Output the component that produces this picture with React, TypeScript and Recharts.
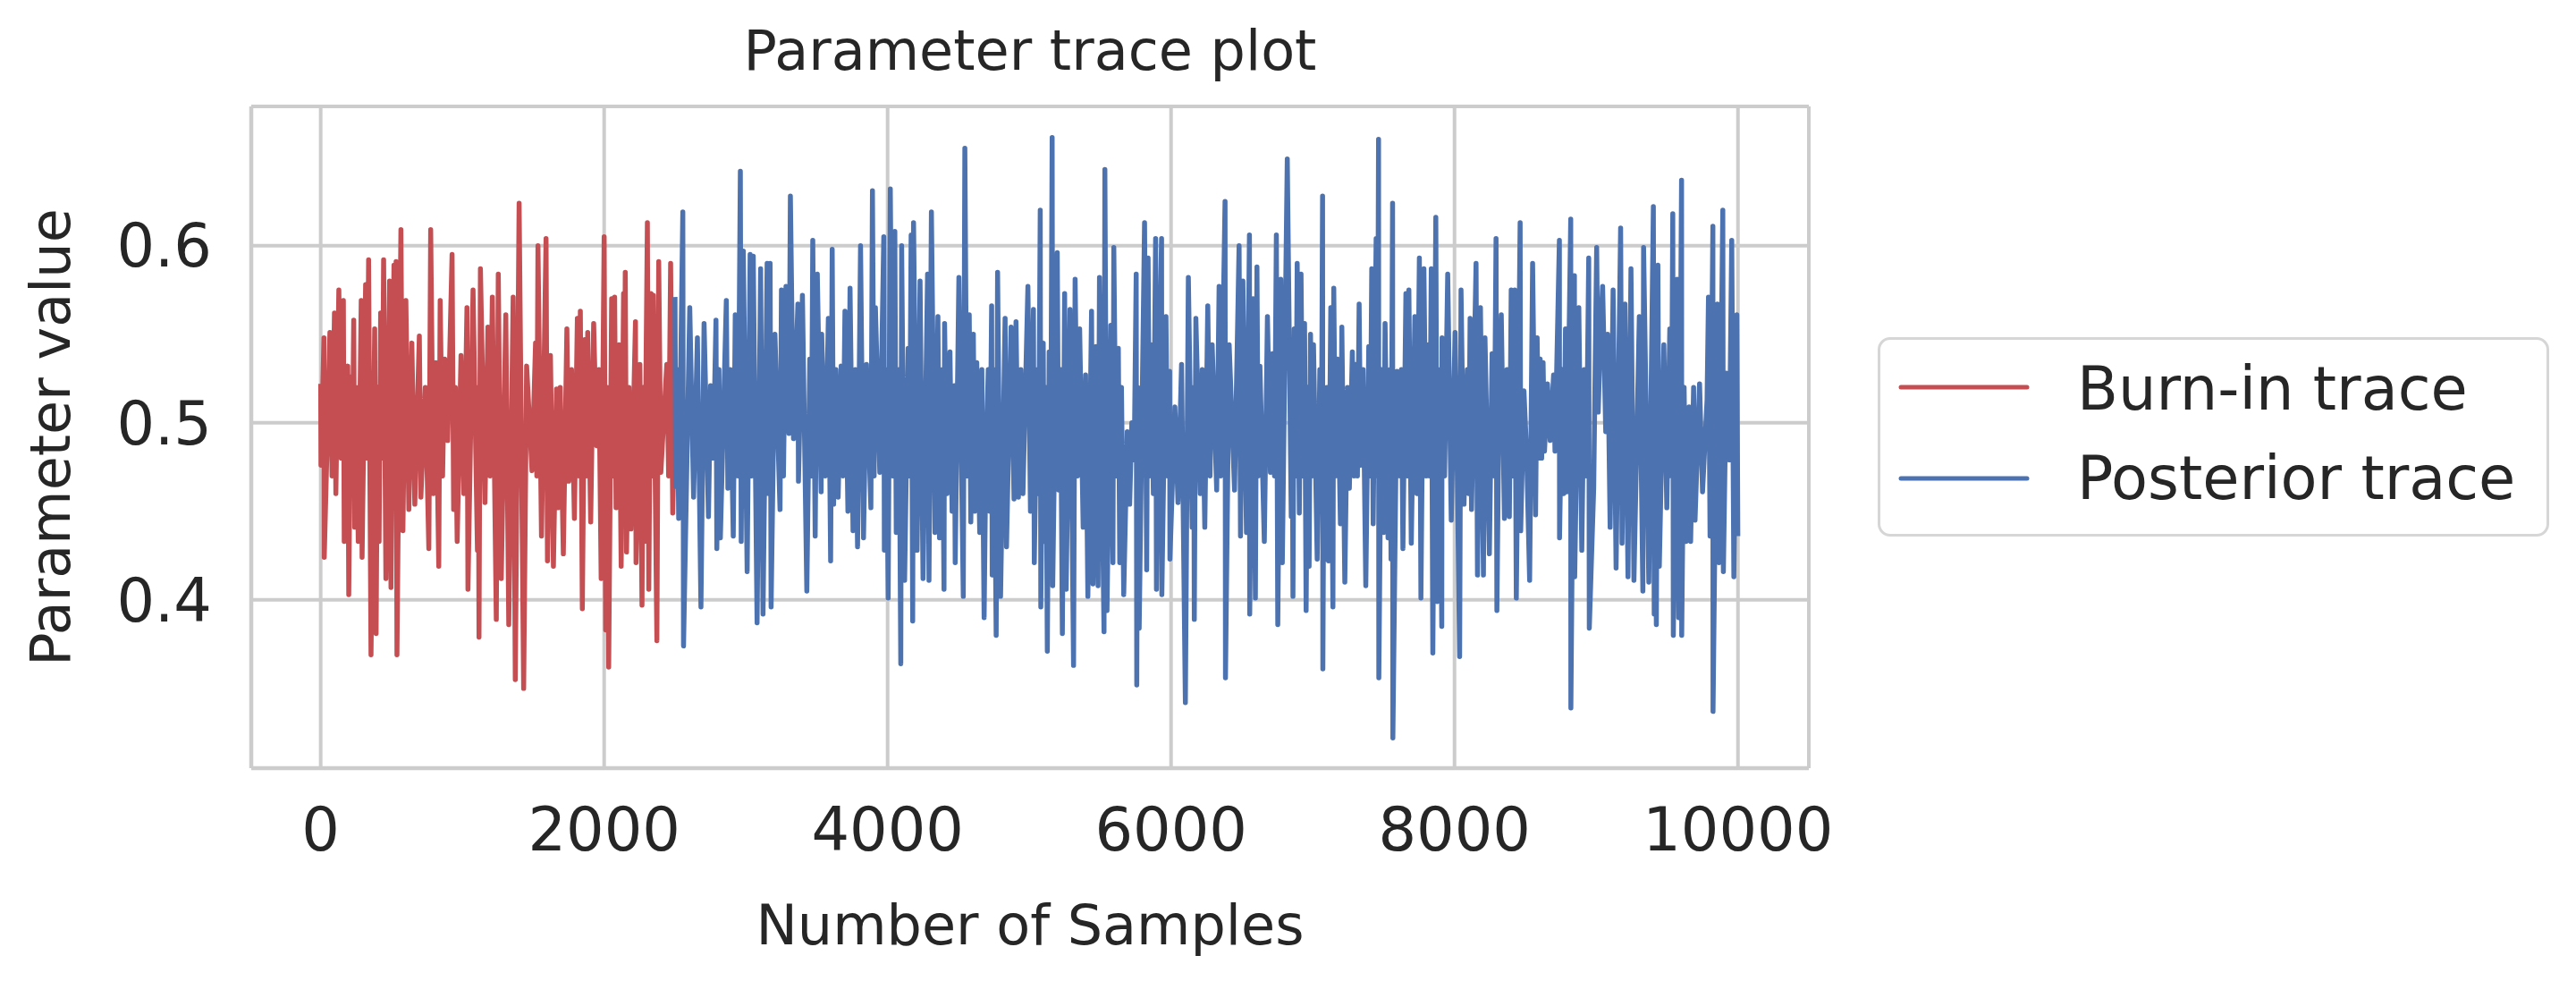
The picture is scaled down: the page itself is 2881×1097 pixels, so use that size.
import React from 'react';
import { LineChart, Line, XAxis, YAxis, CartesianGrid, Legend } from 'recharts';

// MCMC trace (sample index -> parameter value)
const burnInSamples = [
  0, 2, 23, 25, 65, 80, 97, 107, 128, 145, 160, 166, 191, 198, 212, 222, 233, 240, 252, 265,
  286, 292, 317, 327, 338, 355, 381, 391, 402, 412, 423, 434, 444, 460, 486, 496, 517, 525, 532, 538,
  566, 580, 601, 622, 643, 664, 696, 707, 738, 763, 776, 795, 812, 833, 843, 860, 875, 896, 927, 938,
  950, 963, 990, 1010, 1032, 1039, 1075, 1106, 1112, 1117, 1127, 1159, 1180, 1195, 1211, 1239, 1253, 1274, 1306, 1327,
  1358, 1373, 1400, 1432, 1453, 1491, 1516, 1525, 1533, 1558, 1590, 1600, 1621, 1642, 1664, 1674, 1690, 1712, 1737, 1750,
  1770, 1790, 1811, 1822, 1832, 1846, 1863, 1875, 1884, 1905, 1926, 1947, 1963, 1979, 2000, 2011, 2022, 2032, 2053, 2064,
  2074, 2084, 2105, 2120, 2137, 2143, 2149, 2158, 2175, 2189, 2221, 2225, 2252, 2267, 2276, 2284, 2305, 2315, 2330, 2340,
  2347, 2372, 2385, 2400, 2442, 2455, 2469, 2484, 2499,
];
const burnInValues = [
  0.522, 0.476, 0.548, 0.424, 0.551, 0.47, 0.562, 0.46, 0.575, 0.48, 0.569, 0.433, 0.532, 0.403, 0.526, 0.47, 0.558, 0.441, 0.52, 0.433,
  0.569, 0.424, 0.578, 0.48, 0.592, 0.369, 0.553, 0.381, 0.52, 0.433, 0.562, 0.48, 0.592, 0.412, 0.58, 0.407, 0.589, 0.47, 0.591, 0.369,
  0.609, 0.439, 0.569, 0.451, 0.545, 0.454, 0.549, 0.458, 0.52, 0.429, 0.609, 0.46, 0.534, 0.419, 0.569, 0.47, 0.536, 0.49, 0.595, 0.451,
  0.52, 0.433, 0.538, 0.46, 0.565, 0.406, 0.575, 0.428, 0.52, 0.379, 0.587, 0.455, 0.554, 0.47, 0.571, 0.389, 0.584, 0.412, 0.561, 0.386,
  0.571, 0.355, 0.624, 0.35, 0.532, 0.473, 0.545, 0.47, 0.6, 0.436, 0.604, 0.422, 0.538, 0.419, 0.519, 0.452, 0.52, 0.426, 0.553, 0.467,
  0.53, 0.446, 0.559, 0.47, 0.563, 0.395, 0.547, 0.47, 0.551, 0.444, 0.556, 0.487, 0.53, 0.412, 0.605, 0.383, 0.52, 0.362, 0.57, 0.47,
  0.571, 0.452, 0.544, 0.419, 0.573, 0.48, 0.585, 0.427, 0.52, 0.44, 0.557, 0.421, 0.533, 0.397, 0.52, 0.433, 0.613, 0.406, 0.573, 0.47,
  0.572, 0.377, 0.591, 0.472, 0.533, 0.47, 0.59, 0.449, 0.511,
];

const posteriorSamples = [
  2500, 2505, 2515, 2526, 2555, 2560, 2604, 2631, 2658, 2683, 2705, 2736, 2751, 2770, 2789, 2795, 2810, 2820, 2862, 2873,
  2890, 2911, 2925, 2945, 2961, 2967, 2982, 3009, 3030, 3040, 3052, 3079, 3104, 3121, 3150, 3160, 3171, 3178, 3205, 3241,
  3251, 3265, 3283, 3304, 3314, 3336, 3367, 3371, 3399, 3430, 3451, 3462, 3472, 3489, 3504, 3531, 3535, 3560, 3582, 3598,
  3609, 3619, 3635, 3651, 3672, 3685, 3699, 3720, 3735, 3756, 3772, 3788, 3809, 3830, 3851, 3882, 3893, 3905, 3914, 3945,
  3973, 3977, 3990, 4004, 4019, 4035, 4051, 4061, 4080, 4093, 4099, 4120, 4145, 4155, 4166, 4177, 4183, 4208, 4229, 4250,
  4282, 4292, 4309, 4334, 4355, 4366, 4385, 4398, 4402, 4419, 4440, 4455, 4471, 4477, 4503, 4534, 4545, 4560, 4576, 4587,
  4605, 4615, 4629, 4650, 4665, 4681, 4692, 4710, 4720, 4734, 4738, 4750, 4766, 4776, 4797, 4829, 4839, 4871, 4892, 4906,
  4923, 4940, 4955, 4990, 5008, 5029, 5035, 5055, 5065, 5077, 5081, 5098, 5106, 5117, 5127, 5140, 5150, 5161, 5165, 5197,
  5207, 5220, 5233, 5249, 5260, 5287, 5312, 5323, 5340, 5355, 5380, 5397, 5413, 5439, 5449, 5470, 5485, 5495, 5527, 5533,
  5548, 5575, 5590, 5596, 5612, 5628, 5638, 5650, 5666, 5691, 5708, 5723, 5740, 5754, 5758, 5765, 5775, 5813, 5828, 5838,
  5848, 5859, 5875, 5891, 5897, 5915, 5933, 5935, 5964, 5975, 5990, 5992, 6027, 6049, 6074, 6101, 6122, 6149, 6160, 6164,
  6175, 6206, 6220, 6238, 6259, 6275, 6290, 6322, 6339, 6350, 6381, 6384, 6410, 6448, 6480, 6490, 6507, 6532, 6553, 6555,
  6578, 6595, 6606, 6615, 6627, 6658, 6680, 6701, 6715, 6730, 6743, 6753, 6774, 6785, 6820, 6848, 6855, 6860, 6869, 6880,
  6890, 6905, 6917, 6930, 6942, 6953, 6964, 6974, 6984, 6995, 7005, 7031, 7050, 7060, 7069, 7071, 7080, 7090, 7100, 7111,
  7127, 7142, 7148, 7160, 7174, 7195, 7205, 7226, 7245, 7258, 7279, 7290, 7300, 7315, 7327, 7338, 7355, 7374, 7395, 7405,
  7416, 7426, 7447, 7456, 7464, 7466, 7485, 7500, 7510, 7531, 7545, 7552, 7563, 7565, 7594, 7615, 7625, 7636, 7657, 7667,
  7678, 7695, 7720, 7735, 7752, 7763, 7784, 7800, 7815, 7825, 7836, 7847, 7868, 7878, 7895, 7910, 7912, 7930, 7952, 7977,
  8004, 8020, 8036, 8046, 8067, 8090, 8100, 8110, 8120, 8152, 8162, 8183, 8204, 8215, 8246, 8265, 8280, 8293, 8299, 8315,
  8330, 8352, 8370, 8387, 8400, 8412, 8425, 8436, 8463, 8467, 8490, 8509, 8530, 8551, 8572, 8583, 8595, 8604, 8615, 8625,
  8635, 8656, 8675, 8699, 8709, 8740, 8741, 8760, 8770, 8783, 8793, 8820, 8821, 8846, 8848, 8877, 8898, 8915, 8930, 8947,
  8951, 8982, 9003, 9014, 9030, 9045, 9067, 9080, 9098, 9119, 9140, 9172, 9182, 9203, 9224, 9245, 9266, 9304, 9329, 9334,
  9371, 9403, 9409, 9415, 9424, 9435, 9445, 9477, 9498, 9519, 9530, 9540, 9544, 9571, 9582, 9602, 9603, 9620, 9634, 9655,
  9666, 9687, 9697, 9729, 9750, 9782, 9792, 9803, 9823, 9824, 9855, 9866, 9893, 9897, 9918, 9939, 9956, 9971, 9992, 9999,
];
const posteriorValues = [
  0.571, 0.464, 0.53, 0.446, 0.619, 0.374, 0.565, 0.458, 0.548, 0.396, 0.556, 0.447, 0.521, 0.48, 0.558, 0.429, 0.53, 0.435, 0.569, 0.463,
  0.53, 0.436, 0.561, 0.47, 0.642, 0.433, 0.597, 0.416, 0.595, 0.47, 0.594, 0.387, 0.587, 0.392, 0.59, 0.46, 0.59, 0.396, 0.55, 0.451,
  0.575, 0.47, 0.577, 0.494, 0.628, 0.491, 0.567, 0.467, 0.572, 0.405, 0.536, 0.47, 0.603, 0.436, 0.584, 0.461, 0.55, 0.47, 0.559, 0.422,
  0.598, 0.454, 0.53, 0.458, 0.532, 0.47, 0.563, 0.45, 0.576, 0.439, 0.53, 0.43, 0.6, 0.435, 0.533, 0.452, 0.631, 0.47, 0.565, 0.472,
  0.605, 0.428, 0.53, 0.401, 0.632, 0.47, 0.608, 0.438, 0.53, 0.364, 0.6, 0.411, 0.542, 0.47, 0.606, 0.388, 0.613, 0.428, 0.58, 0.412,
  0.584, 0.411, 0.619, 0.438, 0.56, 0.435, 0.53, 0.406, 0.556, 0.46, 0.54, 0.45, 0.521, 0.421, 0.582, 0.402, 0.655, 0.47, 0.561, 0.444,
  0.55, 0.45, 0.534, 0.438, 0.53, 0.39, 0.472, 0.53, 0.45, 0.566, 0.414, 0.53, 0.38, 0.585, 0.402, 0.559, 0.43, 0.554, 0.457, 0.557,
  0.458, 0.53, 0.46, 0.577, 0.45, 0.564, 0.421, 0.53, 0.46, 0.62, 0.396, 0.545, 0.433, 0.52, 0.371, 0.54, 0.46, 0.661, 0.408, 0.596,
  0.462, 0.53, 0.381, 0.573, 0.406, 0.564, 0.363, 0.581, 0.47, 0.553, 0.441, 0.527, 0.402, 0.563, 0.409, 0.543, 0.408, 0.582, 0.382, 0.643,
  0.394, 0.555, 0.421, 0.599, 0.47, 0.542, 0.421, 0.52, 0.403, 0.495, 0.454, 0.5, 0.479, 0.584, 0.352, 0.52, 0.384, 0.613, 0.417, 0.593,
  0.47, 0.544, 0.46, 0.604, 0.406, 0.53, 0.604, 0.403, 0.56, 0.47, 0.529, 0.423, 0.509, 0.455, 0.533, 0.342, 0.582, 0.441, 0.52, 0.389,
  0.559, 0.46, 0.53, 0.441, 0.566, 0.47, 0.544, 0.462, 0.577, 0.47, 0.625, 0.356, 0.544, 0.462, 0.6, 0.436, 0.58, 0.438, 0.606, 0.392,
  0.57, 0.401, 0.588, 0.47, 0.532, 0.433, 0.56, 0.472, 0.539, 0.47, 0.606, 0.386, 0.581, 0.421, 0.649, 0.447, 0.52, 0.402, 0.553, 0.47,
  0.59, 0.449, 0.584, 0.47, 0.556, 0.394, 0.52, 0.419, 0.55, 0.47, 0.544, 0.423, 0.53, 0.46, 0.628, 0.361, 0.52, 0.423, 0.52, 0.422,
  0.565, 0.396, 0.576, 0.47, 0.536, 0.443, 0.554, 0.41, 0.52, 0.463, 0.54, 0.47, 0.533, 0.47, 0.567, 0.476, 0.53, 0.408, 0.543, 0.47,
  0.587, 0.443, 0.604, 0.47, 0.66, 0.356, 0.53, 0.438, 0.556, 0.435, 0.53, 0.423, 0.624, 0.322, 0.529, 0.47, 0.53, 0.429, 0.573, 0.47,
  0.575, 0.432, 0.56, 0.46, 0.593, 0.401, 0.587, 0.47, 0.544, 0.47, 0.587, 0.37, 0.616, 0.399, 0.53, 0.385, 0.548, 0.47, 0.584, 0.445,
  0.551, 0.47, 0.368, 0.575, 0.454, 0.53, 0.46, 0.559, 0.451, 0.59, 0.414, 0.565, 0.414, 0.548, 0.426, 0.539, 0.47, 0.604, 0.394, 0.52,
  0.561, 0.446, 0.53, 0.447, 0.575, 0.47, 0.575, 0.401, 0.613, 0.439, 0.518, 0.482, 0.411, 0.59, 0.448, 0.548, 0.48, 0.536, 0.48, 0.534,
  0.484, 0.522, 0.49, 0.527, 0.484, 0.603, 0.435, 0.53, 0.46, 0.553, 0.461, 0.615, 0.339, 0.583, 0.413, 0.565, 0.428, 0.53, 0.47, 0.593,
  0.384, 0.463, 0.599, 0.506, 0.55, 0.577, 0.495, 0.55, 0.441, 0.575, 0.418, 0.61, 0.432, 0.567, 0.413, 0.587, 0.411, 0.56, 0.405, 0.599,
  0.41, 0.622, 0.392, 0.52, 0.386, 0.589, 0.419, 0.544, 0.452, 0.553, 0.47, 0.618, 0.38, 0.581, 0.39, 0.637, 0.38, 0.52, 0.433, 0.509,
  0.433, 0.52, 0.445, 0.522, 0.461, 0.513, 0.571, 0.436, 0.611, 0.337, 0.567, 0.421, 0.62, 0.416, 0.528, 0.479, 0.603, 0.413, 0.561, 0.436,
];

const xTicks = [0, 2000, 4000, 6000, 8000, 10000];
const yTicks = [0.4, 0.5, 0.6];
const seriesNames = ['Burn-in trace', 'Posterior trace'];
const seriesColors = ['#c44e52', '#4c72b0'];
const chartTitle = 'Parameter trace plot';

const FONT = '"DejaVu Sans", sans-serif';
const INK = '#262626';
const GRID = '#cccccc';

const burnIn = burnInSamples.map((s, i) => ({ s, v: burnInValues[i] }));
const posterior = posteriorSamples.map((s, i) => ({ s, v: posteriorValues[i] }));

const TraceLegend = () => (
  <div
    style={{
      width: 751,
      height: 223,
      boxSizing: 'border-box',
      border: '3px solid #d6d6d6',
      borderRadius: 14,
      background: '#fff',
    }}
  >
    <svg width={745} height={217} style={{ display: 'block' }}>
      {seriesNames.map((name, i) => (
        <g key={name}>
          <line
            x1={23}
            x2={164}
            y1={53 + i * 102}
            y2={53 + i * 102}
            stroke={seriesColors[i]}
            strokeWidth={5}
            strokeLinecap="round"
          />
          <text x={220} y={78 + i * 100} fill={INK} fontSize={67} fontFamily={FONT}>
            {name}
          </text>
        </g>
      ))}
    </svg>
  </div>
);

const renderXLabel = () => (
  <text x={1152} y={1056} textAnchor="middle" fill={INK} fontSize={62} fontFamily={FONT}>
    Number of Samples
  </text>
);

const renderYLabel = () => (
  <text
    x={0}
    y={0}
    transform="translate(78, 489) rotate(-90)"
    textAnchor="middle"
    fill={INK}
    fontSize={62}
    fontFamily={FONT}
  >
    Parameter value
  </text>
);

const frame = { stroke: GRID, strokeWidth: 4.5 };
const tickStyle = { fill: INK, fontSize: 67, fontFamily: FONT };

export default function App() {
  return (
    <div style={{ position: 'absolute', left: 0, top: 0, width: 2881, height: 1097, background: '#fff' }}>
      <LineChart width={2881} height={1097} margin={{ top: 119, right: 858, bottom: 88, left: 81 }}>
        <CartesianGrid stroke={GRID} strokeWidth={4} />
        <XAxis
          dataKey="s"
          type="number"
          domain={[-490, 10500]}
          allowDataOverflow
          ticks={xTicks}
          interval={0}
          height={150}
          tickLine={false}
          tickSize={0}
          tickMargin={44}
          axisLine={frame}
          tick={tickStyle}
          label={renderXLabel}
        />
        <XAxis
          xAxisId="top"
          orientation="top"
          type="number"
          domain={[-490, 10500]}
          height={0}
          tick={false}
          tickLine={false}
          axisLine={frame}
        />
        <YAxis
          type="number"
          domain={[0.305, 0.6786]}
          allowDataOverflow
          ticks={yTicks}
          interval={0}
          width={200}
          tickLine={false}
          tickSize={0}
          tickMargin={44}
          axisLine={frame}
          tick={tickStyle}
          label={renderYLabel}
        />
        <YAxis
          yAxisId="right"
          orientation="right"
          type="number"
          domain={[0.305, 0.6786]}
          width={0}
          tick={false}
          tickLine={false}
          axisLine={frame}
        />
        <Legend
          layout="vertical"
          align="center"
          verticalAlign="middle"
          wrapperStyle={{ left: 2100, top: 377, width: 751, height: 223 }}
          content={() => <TraceLegend />}
        />
        <Line
          data={burnIn}
          dataKey="v"
          name={seriesNames[0]}
          stroke={seriesColors[0]}
          strokeWidth={5.5}
          strokeLinejoin="round"
          dot={false}
          isAnimationActive={false}
        />
        <Line
          data={posterior}
          dataKey="v"
          name={seriesNames[1]}
          stroke={seriesColors[1]}
          strokeWidth={5.5}
          strokeLinejoin="round"
          dot={false}
          isAnimationActive={false}
        />
      </LineChart>
      <svg
        width={2881}
        height={110}
        style={{ position: 'absolute', left: 0, top: 0, pointerEvents: 'none' }}
      >
        <text x={1152} y={78} textAnchor="middle" fill={INK} fontSize={62} fontFamily={FONT}>
          {chartTitle}
        </text>
      </svg>
    </div>
  );
}
